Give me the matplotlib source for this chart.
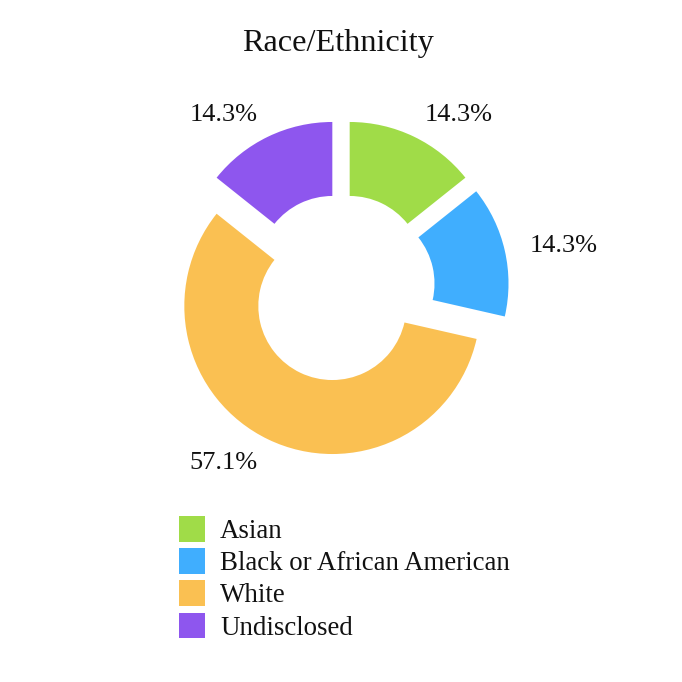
import matplotlib
matplotlib.use("Agg")
import matplotlib.pyplot as plt
from matplotlib.patches import Patch

# ---------------------------------------------------
# Data
# ---------------------------------------------------

categories = ["Asian", "Black or African American", "White", "Undisclosed"]
counts = [1, 1, 4, 1]
pct_labels = ["14.3%", "14.3%", "57.1%", "14.3%"]
colors = ["#a0dc48", "#40aefe", "#fac052", "#8e56ee"]

plt.rcParams["font.family"] = ["Liberation Serif", "DejaVu Serif"]

# ---------------------------------------------------
# Donut
# ---------------------------------------------------

fig = plt.figure(figsize=(6.82, 6.82), dpi=100)
ax = fig.add_axes([0, 0, 1, 1])

radius = 148
cx, cy = 341, 682 - 288

wedges, texts = ax.pie(
    counts,
    labels=pct_labels,
    colors=colors,
    startangle=90,
    counterclock=False,
    radius=radius,
    center=(cx, cy),
    explode=[20] * len(counts),
    labeldistance=1.17,
    wedgeprops=dict(width=74, linewidth=0),
    textprops=dict(fontsize=19, color="#111111"),
)

# left-side labels hang to the left of their anchor
for t in texts:
    x, y = t.get_position()
    t.set_horizontalalignment("left" if x > cx else "right")
    t.set_position((x, y - 1))

ax.set_xlim(0, 682)
ax.set_ylim(0, 682)
ax.set_aspect("equal")
ax.axis("off")

fig.text(
    0.496, 1 - 43 / 682,
    "Race/Ethnicity",
    ha="center", va="center",
    fontsize=23.2, color="#111111"
)

# ---------------------------------------------------
# Legend
# ---------------------------------------------------

handles = [Patch(facecolor=c, edgecolor="none") for c in colors]

fig.legend(
    handles,
    categories,
    loc="upper left",
    bbox_to_anchor=(179 / 682, 1 - 516 / 682),
    frameon=False,
    fontsize=19.4,
    handlelength=0.98,
    handleheight=1.08,
    handletextpad=0.55,
    labelspacing=0.16,
    borderpad=0,
    borderaxespad=0,
    labelcolor="#111111",
)

fig.savefig("out.png", dpi=100)
plt.close()
